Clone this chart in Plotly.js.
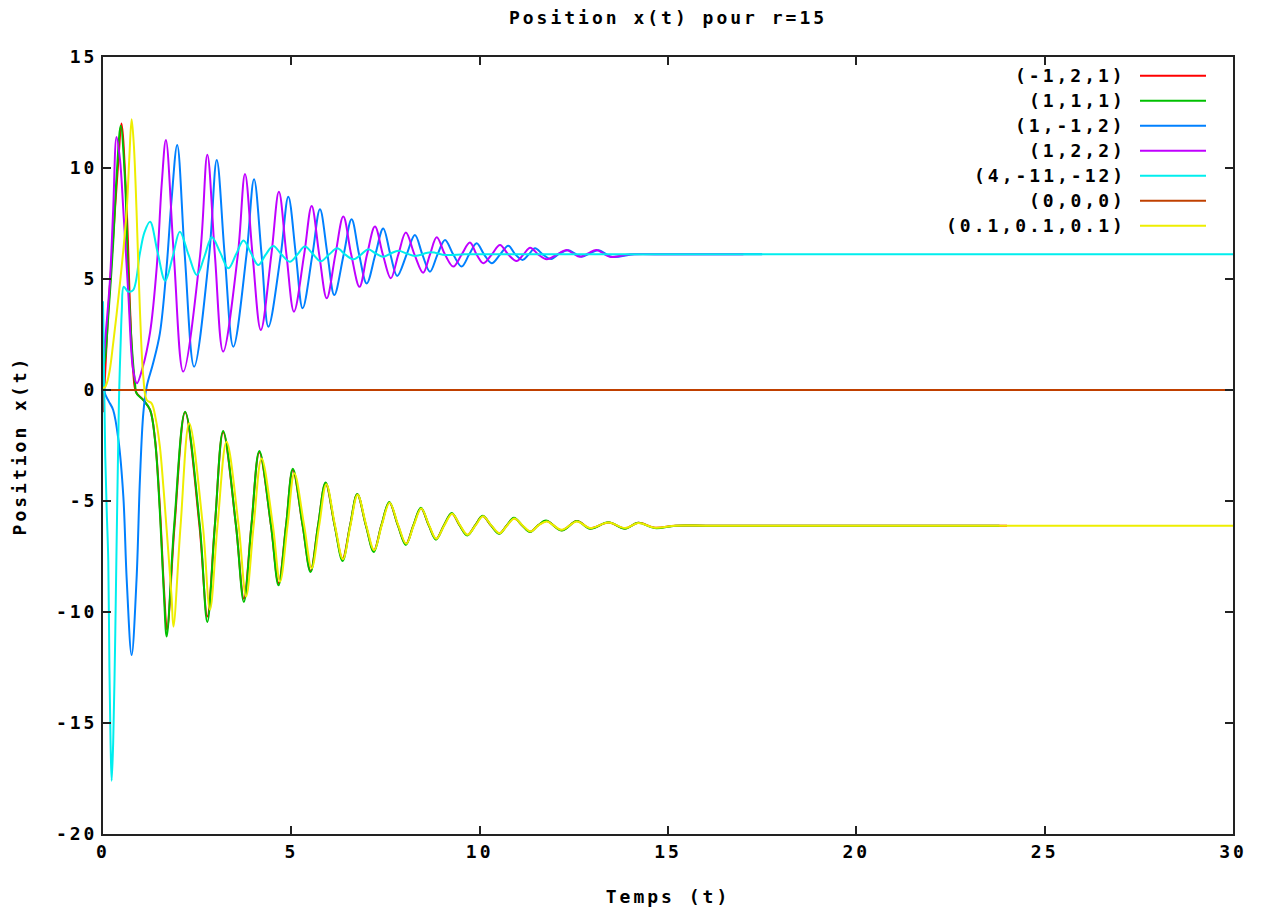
<!DOCTYPE html>
<html>
<head>
<meta charset="utf-8">
<script src="https://cdn.plot.ly/plotly-3.0.1.min.js"></script>
<style>
  html, body { margin: 0; padding: 0; background: #ffffff; }
  #chart { width: 1262px; height: 909px; }
  svg text { letter-spacing: 3px; }
</style>
</head>
<body>
<div id="chart"></div>
<script>
// Lorenz system, r = 15: x(t) for several initial conditions (x0, y0, z0)

const seriesNames = ['(-1,2,1)', '(1,1,1)', '(1,-1,2)', '(1,2,2)', '(4,-11,-12)', '(0,0,0)', '(0.1,0.1,0.1)'];
const seriesColors = ['#ff0000', '#00c000', '#0080ff', '#c000ff', '#00eeee', '#c04000', '#eeee00'];

const redT = [0, 0.05, 0.14, 0.27, 0.41, 0.49, 0.63, 0.72, 0.80, 0.88, 1.07, 1.25, 1.38, 1.51, 1.62, 1.70, 1.90, 2.18, 2.56, 2.77, 2.97, 3.19, 3.53, 3.74, 3.94, 4.15, 4.46, 4.66, 4.86, 5.04, 5.30, 5.51, 5.71, 5.91, 6.15, 6.36, 6.56, 6.75, 6.98, 7.19, 7.39, 7.60, 7.83, 8.04, 8.24, 8.44, 8.65, 8.84, 9.05, 9.26, 9.47, 9.67, 9.88, 10.08, 10.30, 10.52, 10.72, 10.91, 11.13, 11.34, 11.55, 11.78, 12.18, 12.58, 12.93, 13.42, 13.86, 14.21, 14.65, 15.2, 16.0, 18.0, 20.0, 22.0, 24.0];
const redX = [-1, 0.5, 3.6, 6.9, 10.4, 12.0, 8.1, 3.6, 0.9, -0.1, -0.45, -0.9, -2.2, -5.3, -9.0, -10.8, -6.1, -1.0, -6.1, -10.2, -6.1, -1.9, -6.1, -9.4, -6.1, -2.8, -6.1, -8.7, -6.1, -3.6, -6.1, -8.15, -6.1, -4.2, -6.1, -7.6, -6.1, -4.7, -6.1, -7.24, -6.1, -5.07, -6.1, -6.94, -6.1, -5.33, -6.1, -6.71, -6.1, -5.56, -6.1, -6.53, -6.1, -5.68, -6.1, -6.46, -6.1, -5.78, -6.1, -6.38, -6.1, -5.9, -6.32, -5.9, -6.23, -5.97, -6.23, -5.98, -6.2, -6.11, -6.11, -6.11, -6.11, -6.11, -6.11];

const greenT = [0, 0.05, 0.14, 0.27, 0.36, 0.47, 0.58, 0.67, 0.76, 0.85, 0.89, 1.07, 1.25, 1.38, 1.51, 1.62, 1.69, 1.89, 2.18, 2.57, 2.77, 2.97, 3.19, 3.53, 3.74, 3.94, 4.15, 4.46, 4.66, 4.86, 5.04, 5.30, 5.51, 5.71, 5.91, 6.15, 6.36, 6.56, 6.75, 6.98, 7.19, 7.39, 7.60, 7.83, 8.04, 8.24, 8.44, 8.65, 8.84, 9.05, 9.26, 9.47, 9.67, 9.88, 10.08, 10.30, 10.52, 10.72, 10.91, 11.13, 11.34, 11.55, 11.76, 12.18, 12.58, 12.93, 13.42, 13.86, 14.21, 14.65, 15.2, 16.0, 18.0, 20.0, 22.0, 23.8];
const greenX = [1, 1.35, 3.3, 6.6, 9.6, 11.9, 9.6, 5.1, 2.1, 0.3, -0.15, -0.45, -0.9, -2.25, -5.5, -9.3, -11.1, -6.1, -0.98, -6.1, -10.45, -6.1, -1.85, -6.1, -9.55, -6.1, -2.75, -6.1, -8.8, -6.1, -3.55, -6.1, -8.2, -6.1, -4.17, -6.1, -7.7, -6.1, -4.68, -6.1, -7.3, -6.1, -5.05, -6.1, -6.98, -6.1, -5.3, -6.1, -6.74, -6.1, -5.54, -6.1, -6.55, -6.1, -5.66, -6.1, -6.48, -6.1, -5.76, -6.1, -6.4, -6.1, -5.88, -6.33, -5.9, -6.25, -5.96, -6.25, -5.98, -6.22, -6.11, -6.11, -6.11, -6.11, -6.11, -6.11];

const blueT = [0, 0.05, 0.15, 0.27, 0.41, 0.54, 0.63, 0.76, 0.89, 0.98, 1.07, 1.16, 1.33, 1.51, 1.69, 1.82, 1.97, 2.17, 2.42, 2.82, 3.02, 3.23, 3.46, 3.81, 4.01, 4.21, 4.39, 4.72, 4.92, 5.12, 5.30, 5.56, 5.76, 5.96, 6.14, 6.39, 6.60, 6.80, 7.00, 7.23, 7.44, 7.63, 7.81, 8.06, 8.28, 8.48, 8.68, 8.88, 9.08, 9.30, 9.52, 9.72, 9.92, 10.12, 10.32, 10.54, 10.76, 10.95, 11.14, 11.30, 11.47, 11.68, 11.90, 12.12, 12.35, 12.52, 12.70, 12.92, 13.15, 13.50, 14.1, 15.0, 16.0, 17.5];
const blueX = [1, -0.15, -0.5, -0.9, -2.25, -4.8, -8.56, -11.94, -8.56, -4.05, -1.05, 0.15, 1.2, 2.55, 5.56, 8.56, 11.04, 6.1, 1.05, 6.1, 10.36, 6.1, 1.95, 6.1, 9.49, 6.1, 2.85, 6.1, 8.71, 6.1, 3.68, 6.1, 8.14, 6.1, 4.28, 6.1, 7.69, 6.1, 4.8, 6.1, 7.28, 6.1, 5.14, 6.1, 6.98, 6.1, 5.33, 6.1, 6.76, 6.1, 5.56, 6.1, 6.61, 6.1, 5.71, 6.1, 6.5, 6.1, 5.86, 6.1, 6.38, 6.1, 5.9, 6.15, 6.3, 6.15, 6.0, 6.15, 6.3, 6.0, 6.11, 6.11, 6.11, 6.11];

const purpleT = [0, 0.05, 0.12, 0.19, 0.27, 0.36, 0.45, 0.54, 0.67, 0.80, 0.90, 1.05, 1.25, 1.43, 1.56, 1.67, 1.88, 2.13, 2.58, 2.77, 2.97, 3.19, 3.58, 3.77, 3.97, 4.19, 4.47, 4.67, 4.87, 5.07, 5.34, 5.54, 5.74, 5.94, 6.17, 6.38, 6.59, 6.81, 7.01, 7.22, 7.43, 7.64, 7.84, 8.04, 8.27, 8.50, 8.68, 8.86, 9.08, 9.30, 9.52, 9.74, 9.92, 10.10, 10.32, 10.54, 10.76, 10.98, 11.16, 11.34, 11.56, 11.78, 12.05, 12.31, 12.48, 12.66, 12.88, 13.10, 13.46, 14.0, 15.0, 16.0, 17.0];
const purpleX = [1, 2.1, 3.5, 5.1, 8.1, 11.4, 10.4, 8.1, 4.4, 0.9, 0.3, 1.0, 2.6, 5.6, 9.3, 11.26, 6.1, 0.83, 6.1, 10.6, 6.1, 1.73, 6.1, 9.73, 6.1, 2.7, 6.1, 8.93, 6.1, 3.53, 6.1, 8.29, 6.1, 4.13, 6.1, 7.81, 6.1, 4.65, 6.1, 7.36, 6.1, 5.03, 6.1, 7.09, 6.1, 5.28, 6.1, 6.88, 6.1, 5.56, 6.1, 6.64, 6.1, 5.71, 6.1, 6.53, 6.1, 5.81, 6.1, 6.41, 6.1, 5.89, 6.1, 6.31, 6.15, 6.0, 6.15, 6.31, 6.0, 6.11, 6.11, 6.11, 6.11];

const cyanT = [0, 0.03, 0.06, 0.10, 0.14, 0.17, 0.20, 0.23, 0.27, 0.32, 0.36, 0.41, 0.43, 0.47, 0.50, 0.55, 0.67, 0.80, 0.98, 1.10, 1.25, 1.45, 1.65, 1.85, 2.04, 2.27, 2.49, 2.69, 2.89, 3.11, 3.33, 3.53, 3.73, 3.92, 4.12, 4.32, 4.52, 4.74, 4.96, 5.16, 5.36, 5.56, 5.78, 6.0, 6.22, 6.43, 6.65, 6.85, 7.04, 7.24, 7.44, 7.64, 7.84, 8.06, 8.28, 8.7, 9.1, 9.6, 10.5, 12.0, 15.0, 20.0, 25.0, 30];
const cyanX = [4, 0.5, -3.0, -5.5, -7.66, -12.5, -15.8, -17.6, -15.9, -11.6, -7.06, -1.8, 0, 2.2, 3.6, 4.65, 4.43, 4.5, 6.16, 7.1, 7.58, 6.2, 4.92, 6.0, 7.13, 6.1, 5.18, 6.0, 6.88, 6.2, 5.48, 6.1, 6.73, 6.2, 5.63, 6.1, 6.49, 6.1, 5.78, 6.1, 6.46, 6.15, 5.8, 6.1, 6.38, 6.1, 5.89, 6.1, 6.34, 6.15, 6.0, 6.15, 6.27, 6.15, 6.04, 6.2, 6.08, 6.11, 6.11, 6.11, 6.11, 6.11, 6.11, 6.11];

const brownT = [0, 30];
const brownX = [0, 0];

const yellowT = [0, 0.05, 0.10, 0.18, 0.27, 0.36, 0.45, 0.54, 0.63, 0.70, 0.76, 0.82, 0.89, 0.98, 1.07, 1.16, 1.29, 1.40, 1.51, 1.60, 1.69, 1.82, 1.87, 2.06, 2.29, 2.65, 2.84, 3.04, 3.28, 3.60, 3.80, 4.00, 4.21, 4.51, 4.70, 4.90, 5.08, 5.34, 5.54, 5.74, 5.93, 6.16, 6.37, 6.57, 6.76, 6.99, 7.20, 7.40, 7.61, 7.84, 8.05, 8.25, 8.45, 8.66, 8.85, 9.06, 9.27, 9.48, 9.68, 9.89, 10.09, 10.31, 10.53, 10.73, 10.92, 11.14, 11.35, 11.56, 11.78, 12.18, 12.58, 12.93, 13.42, 13.86, 14.21, 14.65, 15.2, 16.0, 18.0, 20.0, 22.0, 24.0, 26.0, 28.0, 30];
const yellowX = [0.1, 0.12, 0.3, 0.9, 2.1, 3.4, 4.8, 6.3, 8.1, 10.5, 12.2, 11.0, 8.1, 3.6, 0.6, -0.45, -0.6, -1.3, -2.55, -4.3, -6.3, -9.3, -10.66, -6.1, -1.5, -6.1, -9.9, -6.1, -2.33, -6.1, -9.3, -6.1, -3.08, -6.1, -8.63, -6.1, -3.75, -6.1, -8.03, -6.1, -4.25, -6.1, -7.62, -6.1, -4.72, -6.1, -7.22, -6.1, -5.08, -6.1, -6.93, -6.1, -5.34, -6.1, -6.7, -6.1, -5.57, -6.1, -6.52, -6.1, -5.69, -6.1, -6.45, -6.1, -5.79, -6.1, -6.37, -6.1, -5.92, -6.3, -5.92, -6.22, -5.97, -6.22, -5.99, -6.2, -6.11, -6.11, -6.11, -6.11, -6.11, -6.11, -6.11, -6.11, -6.11];

const seriesT = [redT, greenT, blueT, purpleT, cyanT, brownT, yellowT];
const seriesX = [redX, greenX, blueX, purpleX, cyanX, brownX, yellowX];

const xTicks = [0, 5, 10, 15, 20, 25, 30];
const yTicks = [-20, -15, -10, -5, 0, 5, 10, 15];

const FONT = { family: 'DejaVu Sans Mono, monospace', size: 18, color: '#000000', weight: 'bold' };

const traces = seriesNames.map((name, i) => ({
  type: 'scatter',
  mode: 'lines',
  name: name,
  x: seriesT[i],
  y: seriesX[i],
  line: { color: seriesColors[i], width: 2, shape: 'spline', smoothing: 1 },
  showlegend: false,
  hoverinfo: 'skip'
}));

// key drawn gnuplot-style: label on the left, line sample on the right
const keyTop = 0.9759, keyStep = 0.0322;
const annotations = seriesNames.map((name, i) => ({
  xref: 'paper', yref: 'paper',
  x: 0.9072, y: keyTop - i * keyStep,
  xanchor: 'right', yanchor: 'middle',
  text: name, showarrow: false, font: FONT
}));
const shapes = seriesNames.map((name, i) => ({
  type: 'line', xref: 'paper', yref: 'paper',
  x0: 0.9177, x1: 0.9761,
  y0: keyTop - i * keyStep, y1: keyTop - i * keyStep,
  line: { color: seriesColors[i], width: 2 }
}));

const axisCommon = {
  showline: true, linecolor: '#222222', linewidth: 2,
  mirror: 'ticks', ticks: 'inside', ticklen: 8, tickwidth: 2, tickcolor: '#222222',
  showgrid: false, zeroline: false, tickfont: FONT, fixedrange: true
};

const layout = {
  width: 1262, height: 909,
  paper_bgcolor: '#ffffff', plot_bgcolor: '#ffffff',
  margin: { l: 103, r: 29, t: 57, b: 75 },
  title: { text: 'Position x(t) pour r=15', font: FONT, x: 0.5, xref: 'paper', y: 0.98, yref: 'container', yanchor: 'middle' },
  xaxis: Object.assign({}, axisCommon, {
    range: [0, 30], tickvals: xTicks, ticktext: xTicks.map(String),
    title: { text: 'Temps (t)', font: FONT, standoff: 30 }
  }),
  yaxis: Object.assign({}, axisCommon, {
    range: [-20, 15], tickvals: yTicks, ticktext: yTicks.map(String),
    title: { text: 'Position x(t)', font: FONT, standoff: 25 }
  }),
  annotations: annotations,
  shapes: shapes
};

Plotly.newPlot('chart', traces, layout, { staticPlot: true, displayModeBar: false });
</script>
</body>
</html>
